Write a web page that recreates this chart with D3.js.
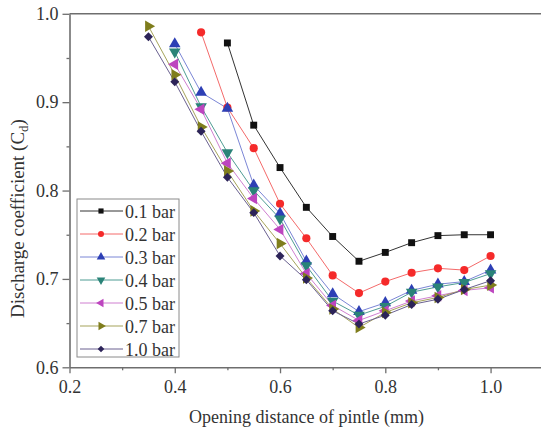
<!DOCTYPE html>
<html>
<head>
<meta charset="utf-8">
<script src="https://cdn.jsdelivr.net/npm/d3@7"></script>
<style>
  html, body { margin: 0; padding: 0; background: #ffffff; }
  svg { display: block; }
  text { font-family: 'Liberation Serif'; }
</style>
</head>
<body>
<svg id="chart" width="541" height="430" font-family="Liberation Serif"></svg>
<script>
// Opening distance (mm) sampled for each supply pressure
const openingAll = [0.35, 0.40, 0.45, 0.50, 0.55, 0.60, 0.65, 0.70, 0.75, 0.80, 0.85, 0.90, 0.95, 1.00];

// Discharge coefficient Cd per pressure; each series starts at its own first opening
const cd01 = [0.967, 0.874, 0.826, 0.781, 0.748, 0.720, 0.730, 0.741, 0.749, 0.750, 0.750];            // from 0.50
const cd02 = [0.979, 0.894, 0.848, 0.785, 0.746, 0.704, 0.684, 0.697, 0.707, 0.712, 0.710, 0.726];     // from 0.45
const cd03 = [0.966, 0.911, 0.893, 0.806, 0.774, 0.720, 0.683, 0.663, 0.673, 0.687, 0.694, 0.697, 0.710]; // from 0.40
const cd04 = [0.957, 0.895, 0.843, 0.800, 0.768, 0.715, 0.675, 0.659, 0.669, 0.685, 0.691, 0.696, 0.706]; // from 0.40
const cd05 = [0.943, 0.892, 0.831, 0.791, 0.756, 0.706, 0.670, 0.653, 0.664, 0.675, 0.681, 0.687, 0.690]; // from 0.40
const cd07 = [0.986, 0.931, 0.872, 0.822, 0.777, 0.740, 0.701, 0.666, 0.645, 0.662, 0.673, 0.679, 0.688, 0.693]; // from 0.35
const cd10 = [0.974, 0.923, 0.867, 0.815, 0.775, 0.726, 0.699, 0.664, 0.649, 0.659, 0.671, 0.677, 0.688, 0.698]; // from 0.35

const seriesLabels = ["0.1 bar", "0.2 bar", "0.3 bar", "0.4 bar", "0.5 bar", "0.7 bar", "1.0 bar"];
const seriesStart  = [0.50, 0.45, 0.40, 0.40, 0.40, 0.35, 0.35];
const seriesValues = [cd01, cd02, cd03, cd04, cd05, cd07, cd10];

const xMajorTicks = [0.2, 0.4, 0.6, 0.8, 1.0];
const xMinorTicks = [0.3, 0.5, 0.7, 0.9];
const yMajorTicks = [0.6, 0.7, 0.8, 0.9, 1.0];
const yMinorTicks = [0.65, 0.75, 0.85, 0.95];

const xTitle = "Opening distance of pintle (mm)";

// marker styling per series
const markerFill  = ["#111111", "#f52a2a", "#2d3fb5", "#2a8378", "#bd45bf", "#7f7d1c", "#2c2358"];
const lineColor   = ["#333333", "#f46a6a", "#7b86d6", "#4f9c93", "#cf7fd0", "#a5a35a", "#6a6190"];
const markerShape = ["square", "circle", "up", "down", "left", "right", "diamond"];

const SERIF = "Liberation Serif";
const INK = "#333333";

const svg = d3.select("#chart");
const W = 541, H = 430;

const x = d3.scaleLinear().domain([0.2, 1.1]).range([69.5, 543.2]);
const y = d3.scaleLinear().domain([0.6, 1.0]).range([367.3, 13.8]);

svg.append("rect").attr("width", W).attr("height", H).attr("fill", "#ffffff");

// build the series rows
const series = seriesLabels.map((label, i) => {
  const startIdx = openingAll.findIndex(v => Math.abs(v - seriesStart[i]) < 1e-9);
  const pts = seriesValues[i].map((v, j) => ({ x: openingAll[startIdx + j], y: v }));
  return { label, pts, i };
});

function symbolPath(shape, size) {
  switch (shape) {
    case "square":  return { d: d3.symbol(d3.symbolSquare, size)(), rot: 0 };
    case "circle":  return { d: d3.symbol(d3.symbolCircle, size)(), rot: 0 };
    case "up":      return { d: d3.symbol(d3.symbolTriangle, size)(), rot: 0 };
    case "down":    return { d: d3.symbol(d3.symbolTriangle, size)(), rot: 180 };
    case "left":    return { d: d3.symbol(d3.symbolTriangle, size)(), rot: -90 };
    case "right":   return { d: d3.symbol(d3.symbolTriangle, size)(), rot: 90 };
    case "diamond": return { d: d3.symbol(d3.symbolSquare, size)(), rot: 45 };
  }
}
const markerSize = { square: 48, circle: 52, up: 58, down: 58, left: 58, right: 58, diamond: 40 };

// frame: top and right edges
const frame = svg.append("g").attr("stroke", "#6e6e6e").attr("stroke-width", 1.6).attr("fill", "none");
frame.append("line").attr("x1", x(0.2)).attr("x2", x(1.1)).attr("y1", y(1.0)).attr("y2", y(1.0));
frame.append("line").attr("x1", x(1.1)).attr("x2", x(1.1)).attr("y1", y(1.0)).attr("y2", y(0.6));

// axes
const fmt = d3.format(".1f");
const gx = svg.append("g").attr("transform", `translate(0,${y(0.6)})`)
  .call(d3.axisBottom(x).tickValues(xMajorTicks).tickFormat(fmt).tickSize(6).tickSizeOuter(0).tickPadding(7));
const gxm = svg.append("g").attr("transform", `translate(0,${y(0.6)})`)
  .call(d3.axisBottom(x).tickValues(xMinorTicks).tickFormat("").tickSize(3).tickSizeOuter(0));
const gy = svg.append("g").attr("transform", `translate(${x(0.2)},0)`)
  .call(d3.axisLeft(y).tickValues(yMajorTicks).tickFormat(fmt).tickSize(7).tickSizeOuter(0).tickPadding(4));
const gym = svg.append("g").attr("transform", `translate(${x(0.2)},0)`)
  .call(d3.axisLeft(y).tickValues(yMinorTicks).tickFormat("").tickSize(3).tickSizeOuter(0));

[gx, gxm, gy, gym].forEach(g => {
  g.attr("font-family", SERIF).attr("font-size", 18);
  g.select(".domain").attr("stroke", "#6e6e6e").attr("stroke-width", 1.6);
  g.selectAll(".tick line").attr("stroke", "#6e6e6e").attr("stroke-width", 1.3);
  g.selectAll(".tick text").attr("fill", INK);
});
gxm.select(".domain").remove();
gym.select(".domain").remove();

// axis titles
svg.append("text")
  .attr("x", 306.5).attr("y", 423)
  .attr("text-anchor", "middle").attr("font-size", 18).attr("fill", INK)
  .text(xTitle);

const yt = svg.append("text")
  .attr("transform", `translate(24,${218.5}) rotate(-90)`)
  .attr("text-anchor", "middle").attr("font-size", 19).attr("fill", INK);
yt.append("tspan").text("Discharge coefficient (C");
yt.append("tspan").attr("font-size", 13).attr("dy", 4).text("d");
yt.append("tspan").attr("dy", -4).text(")");

// lines and markers
const line = d3.line().x(d => x(d.x)).y(d => y(d.y));
const plot = svg.append("g");
series.forEach(s => {
  plot.append("path").datum(s.pts)
    .attr("d", line).attr("fill", "none")
    .attr("stroke", lineColor[s.i]).attr("stroke-width", 1);
});
series.forEach(s => {
  const shape = markerShape[s.i];
  const sp = symbolPath(shape, markerSize[shape]);
  plot.append("g").selectAll("path").data(s.pts).join("path")
    .attr("d", sp.d)
    .attr("transform", d => `translate(${x(d.x)},${y(d.y)}) rotate(${sp.rot})`)
    .attr("fill", markerFill[s.i]);
});

// legend
const lg = svg.append("g");
lg.append("rect").attr("x", 77).attr("y", 199).attr("width", 102).attr("height", 158)
  .attr("fill", "#ffffff").attr("stroke", "#8a8a8a").attr("stroke-width", 1);
series.forEach((s, k) => {
  const cy = 211 + k * 23;
  lg.append("line").attr("x1", 80).attr("x2", 123).attr("y1", cy).attr("y2", cy)
    .attr("stroke", lineColor[s.i]).attr("stroke-width", 1);
  const shape = markerShape[s.i];
  const sp = symbolPath(shape, markerSize[shape] * 0.55);
  lg.append("path").attr("d", sp.d)
    .attr("transform", `translate(101,${cy}) rotate(${sp.rot})`)
    .attr("fill", markerFill[s.i]);
  lg.append("text").attr("x", 125).attr("y", cy + 6.5)
    .attr("font-size", 18).attr("fill", INK)
    .text(s.label);
});
</script>
</body>
</html>
